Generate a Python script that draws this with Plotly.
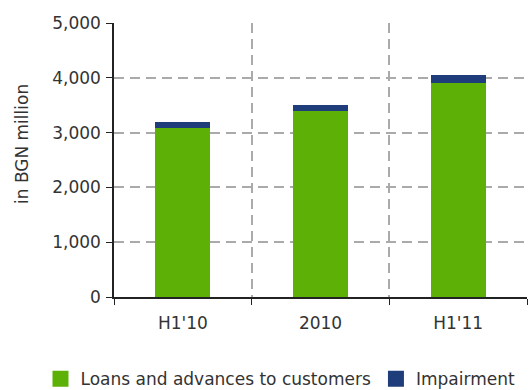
import plotly.graph_objects as go

categories = ["H1'10", "2010", "H1'11"]
loans = [3090, 3400, 3910]
impairment = [110, 110, 145]
y_ticks = [0, 1000, 2000, 3000, 4000, 5000]
y_ticklabels = ["0", "1,000", "2,000", "3,000", "4,000", "5,000"]

GREEN = "#5DB106"
NAVY = "#1F3D7A"
FONT = "DejaVu Sans"
TXT = "#333333"
FS = 17

fig = go.Figure()
fig.add_trace(go.Bar(x=categories, y=loans, marker=dict(color=GREEN, line=dict(width=0)),
                     width=0.4, showlegend=False))
fig.add_trace(go.Bar(x=categories, y=impairment, marker=dict(color=NAVY, line=dict(width=0)),
                     width=0.4, showlegend=False))
fig.add_trace(go.Scatter(x=[None], y=[None], mode="markers", name="Loans and advances to customers",
                         marker=dict(symbol="square", size=16, color=GREEN)))
fig.add_trace(go.Scatter(x=[None], y=[None], mode="markers", name="Impairment",
                         marker=dict(symbol="square", size=16, color=NAVY)))

fig.update_layout(
    barmode="stack",
    width=530, height=390,
    margin=dict(l=114, r=3, t=23, b=93, autoexpand=False),
    paper_bgcolor="white", plot_bgcolor="white",
    font=dict(family=FONT, size=FS, color=TXT),
    showlegend=True,
    legend=dict(orientation="h", x=-0.178, xanchor="left", y=-0.30, yanchor="middle",
                font=dict(family=FONT, size=FS, color=TXT), itemsizing="trace",
                traceorder="normal"),
    annotations=[dict(text="in BGN million", textangle=-90, xref="paper", yref="paper",
                      x=(22 - 114) / 413, y=(297 - 144) / 274, showarrow=False,
                      xanchor="center", yanchor="middle",
                      font=dict(family=FONT, size=FS, color=TXT))],
)
fig.update_xaxes(
    type="category", range=[-0.5, 2.5], tickson="boundaries",
    showline=True, linecolor="#222222", linewidth=1.5,
    ticks="outside", ticklen=6, tickcolor="#222222",
    showgrid=True, gridcolor="#AAAAAA", griddash="10px,6px", gridwidth=1.5,
    tickfont=dict(family=FONT, size=FS, color=TXT), ticklabelstandoff=10,
)
fig.update_yaxes(
    range=[0, 5000], tickvals=y_ticks, ticktext=y_ticklabels,
    showline=True, linecolor="#222222", linewidth=1.5,
    ticks="outside", ticklen=6, tickcolor="#222222",
    showgrid=True, gridcolor="#AAAAAA", griddash="10px,6px", gridwidth=1.5,
    zeroline=False,
    tickfont=dict(family=FONT, size=FS, color=TXT), ticklabelstandoff=2,
)
fig.write_html("out.html")
